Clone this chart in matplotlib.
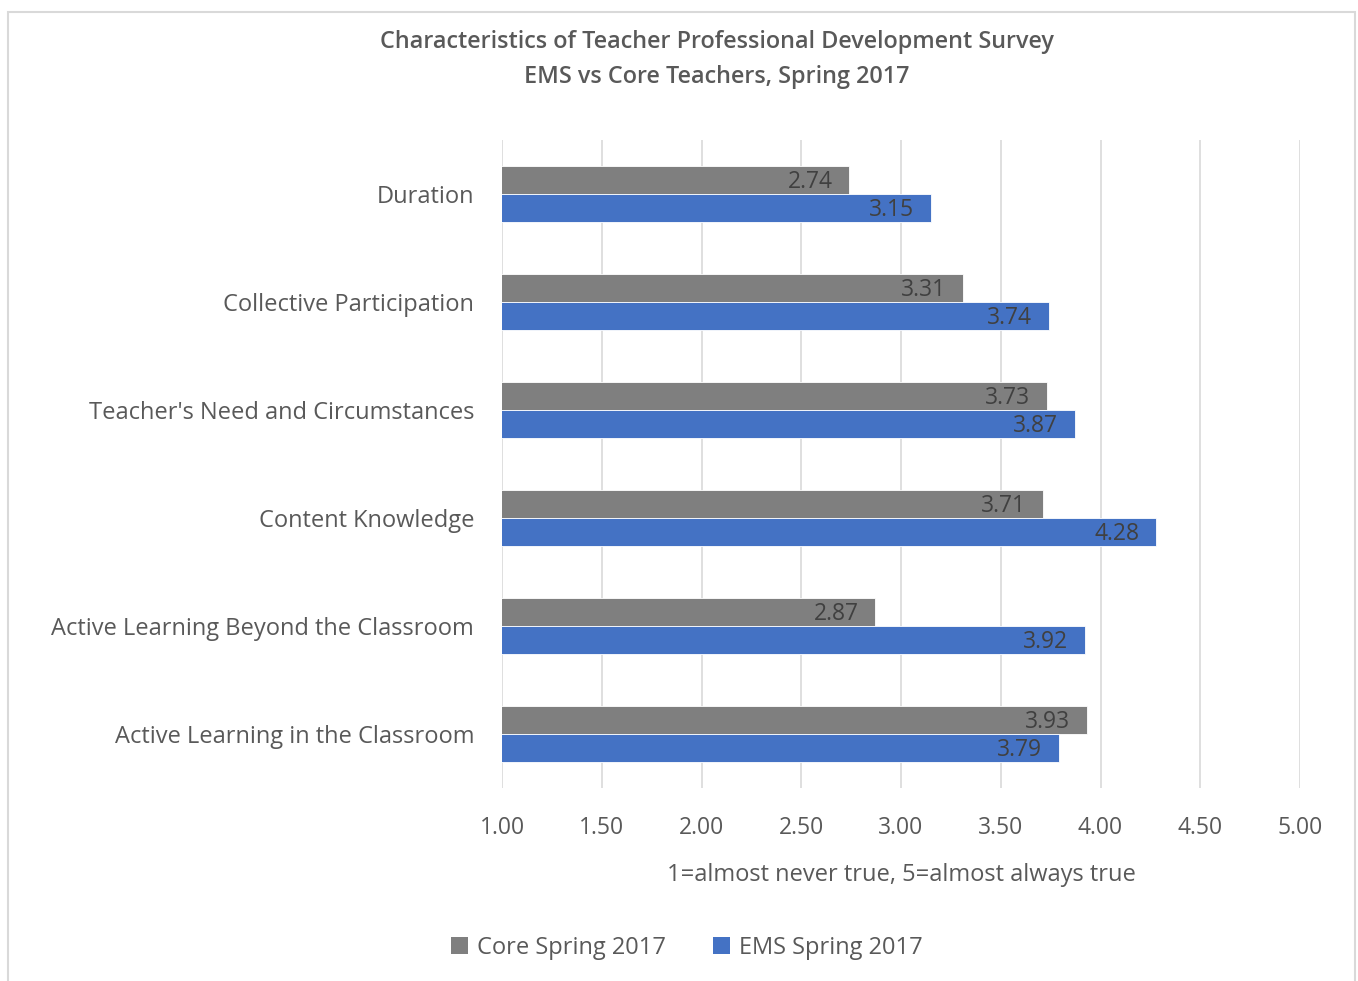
import matplotlib
matplotlib.use("Agg")
import matplotlib.pyplot as plt
from matplotlib.patches import Rectangle, Patch
import numpy as np

categories = ["Duration", "Collective Participation", "Teacher's Need and Circumstances",
              "Content Knowledge", "Active Learning Beyond the Classroom",
              "Active Learning in the Classroom"]
core_values = [2.74, 3.31, 3.73, 3.71, 2.87, 3.93]
ems_values = [3.15, 3.74, 3.87, 4.28, 3.92, 3.79]
x_ticks = [1.0, 1.5, 2.0, 2.5, 3.0, 3.5, 4.0, 4.5, 5.0]
series_names = ["Core Spring 2017", "EMS Spring 2017"]

GRAY = "#7f7f7f"
BLUE = "#4472c4"
TXT = "#595959"
LBL = "#404040"

plt.rcParams['font.family'] = ['Open Sans', 'DejaVu Sans']

W, H = 1358, 981
fig = plt.figure(figsize=(W / 100, H / 100), dpi=100)
fig.patch.set_facecolor("white")

# figure border
fig.patches.append(Rectangle((8 / W, -0.01), (1355 - 8) / W, 1 - 12 / H + 0.01,
                             transform=fig.transFigure, fill=False,
                             edgecolor="#d9d9d9", linewidth=1.5))

ax = fig.add_axes([502 / W, 1 - 788 / H, (1300 - 502) / W, (788 - 140) / H])

n = len(categories)
ypos = np.arange(n)
bh = 0.26
ax.barh(ypos - bh / 2, core_values, height=bh, color=GRAY, edgecolor="white", linewidth=0.6, zorder=3)
ax.barh(ypos + bh / 2, ems_values, height=bh, color=BLUE, edgecolor="white", linewidth=0.6, zorder=3)

ax.set_xlim(1, 5)
ax.set_ylim(n - 0.5, -0.5)

FS = 17
for i in range(n):
    ax.annotate(f"{core_values[i]:.2f}", (core_values[i], ypos[i] - bh / 2), xytext=(-12, -1.5),
                textcoords="offset points", ha="right", va="center", fontsize=16.5, color=LBL, zorder=4)
    ax.annotate(f"{ems_values[i]:.2f}", (ems_values[i], ypos[i] + bh / 2), xytext=(-12, -1.5),
                textcoords="offset points", ha="right", va="center", fontsize=16.5, color=LBL, zorder=4)

ax.set_xticks(x_ticks)
ax.set_xticklabels([f"{t:.2f}" for t in x_ticks], fontsize=16.5, color=TXT)
ax.set_yticks(ypos)
ax.set_yticklabels(categories, fontsize=FS, color=TXT)
ax.tick_params(axis="x", length=0, pad=20)
ax.tick_params(axis="y", length=0, pad=20)
ax.grid(axis="x", color="#d9d9d9", linewidth=1.2, zorder=0)
for s in ax.spines.values():
    s.set_visible(False)

ax.set_xlabel("1=almost never true, 5=almost always true", fontsize=FS, color=TXT, labelpad=17)

fig.text(717 / W, 1 - 42 / H, "Characteristics of Teacher Professional Development Survey",
         ha="center", va="center", fontsize=16.8, color=TXT, fontweight="semibold")
fig.text(717 / W, 1 - 77 / H, "EMS vs Core Teachers, Spring 2017",
         ha="center", va="center", fontsize=16.8, color=TXT, fontweight="semibold")

handles = [Patch(facecolor=GRAY, edgecolor="none"), Patch(facecolor=BLUE, edgecolor="none")]
fig.legend(handles, series_names, loc="center", bbox_to_anchor=(687 / W, 1 - 948 / H),
           ncol=2, frameon=False, fontsize=FS, labelcolor=TXT,
           handlelength=0.7, handleheight=0.7, handletextpad=0.4, columnspacing=2.0)

fig.savefig("out.png", dpi=100, facecolor="white")
